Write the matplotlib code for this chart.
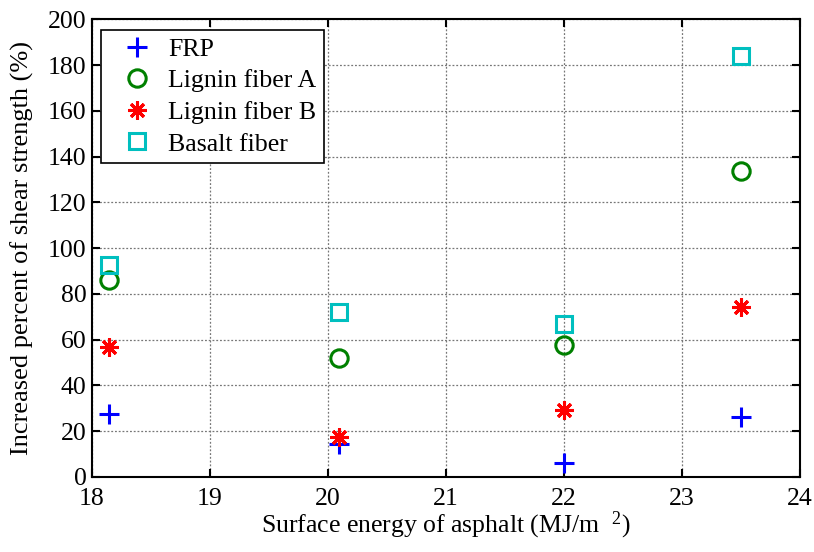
import matplotlib
matplotlib.use("Agg")
import matplotlib.pyplot as plt

plt.rcParams['font.family'] = ['Liberation Serif', 'DejaVu Serif']
plt.rcParams['mathtext.fontset'] = 'custom'
plt.rcParams['mathtext.rm'] = 'Liberation Serif'
plt.rcParams['mathtext.it'] = 'Liberation Serif:italic'

x = [18.14, 20.09, 22.0, 23.5]
frp = [27.5, 14.4, 6.0, 26.3]
lignin_a = [86.1, 52.0, 57.7, 133.5]
lignin_b = [56.8, 17.5, 29.3, 74.3]
basalt = [92.7, 72.1, 67.0, 184.0]
labels = ["FRP", "Lignin fiber A", "Lignin fiber B", "Basalt fiber"]
xticks = [18, 19, 20, 21, 22, 23, 24]
yticks = list(range(0, 201, 20))

fig = plt.figure(figsize=(8.14, 5.52), dpi=100)
ax = fig.add_axes([0.113, 0.136, 0.870, 0.829])

ax.plot(x, frp, linestyle='none', marker='+', color='#0000ff', markersize=14, markeredgewidth=2.2, label=labels[0])
ax.plot(x, lignin_a, linestyle='none', marker='o', color='#008000', markerfacecolor='none', markersize=12.5, markeredgewidth=2.2, label=labels[1])
ax.plot(x, lignin_b, linestyle='none', marker=(8, 2, 0), color='#ff0000', markersize=13, markeredgewidth=2.2, label=labels[2])
ax.plot(x, basalt, linestyle='none', marker='s', color='#00bfbf', markerfacecolor='none', markersize=11, markeredgewidth=2.2, label=labels[3])

ax.set_xlim(18, 24)
ax.set_ylim(0, 200)
ax.set_xticks(xticks)
ax.set_yticks(yticks)
ax.tick_params(direction='in', top=True, right=True, labelsize=18.5, length=6, width=1.5)
ax.tick_params(axis='y', pad=4)
ax.tick_params(axis='x', pad=8)
for s in ax.spines.values():
    s.set_linewidth(1.5)
ax.grid(True, linestyle=(0, (1.5, 1.5)), color='#777777', linewidth=0.9)

ax.set_xlabel("Surface energy of asphalt (MJ/m  $^{2}$)", fontsize=18.5, labelpad=0)
ax.set_ylabel("Increased percent of shear strength (%)", fontsize=19, labelpad=10)

leg = ax.legend(loc='upper left', fontsize=18.6, frameon=True, fancybox=False, edgecolor='black',
                framealpha=1, borderpad=0.3, labelspacing=0.33, handletextpad=0.1,
                handlelength=2.2, borderaxespad=0, bbox_to_anchor=(0.0127, 0.977))
leg.get_frame().set_linewidth(1.2)

fig.savefig("out.png", dpi=100)
